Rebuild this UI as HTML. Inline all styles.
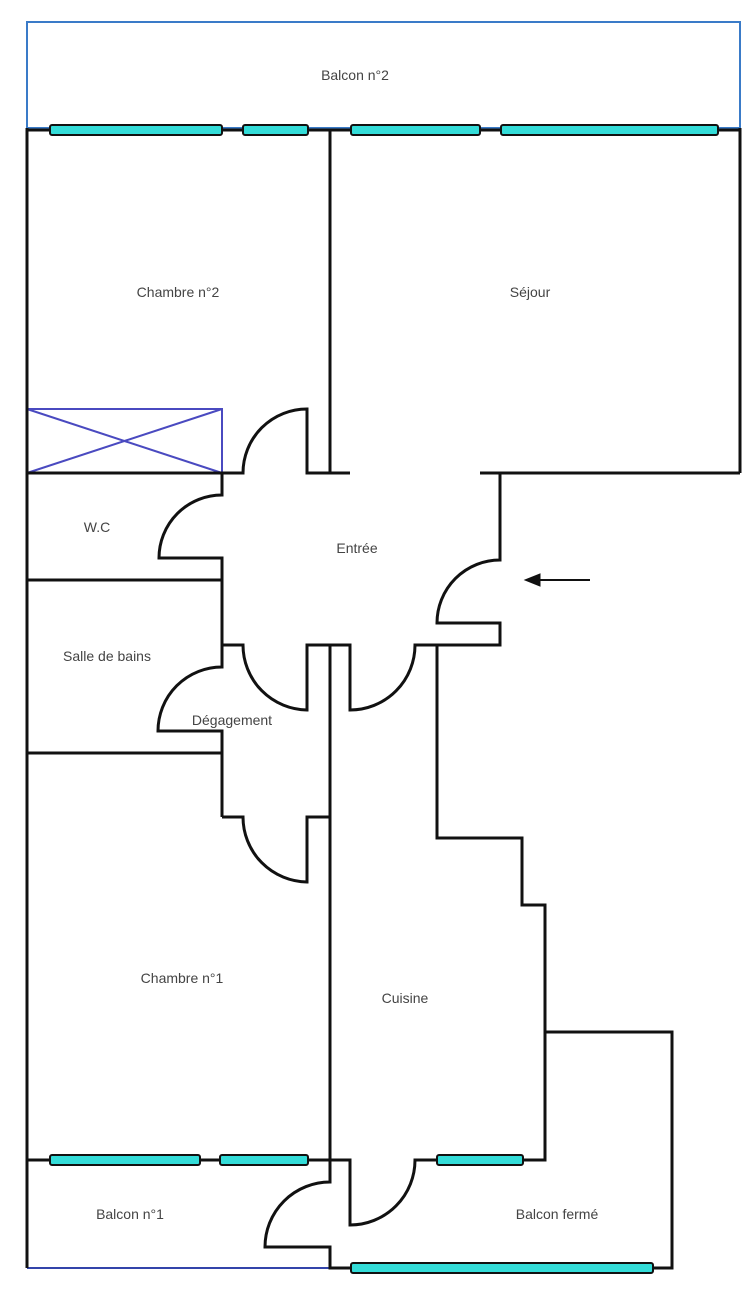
<!DOCTYPE html>
<html><head><meta charset="utf-8"><style>
html,body{margin:0;padding:0;background:#fff;}
svg{display:block;}
text{font-family:"Liberation Sans",sans-serif;font-size:14px;fill:#444;text-anchor:middle;}
</style></head><body>
<svg width="752" height="1294" viewBox="0 0 752 1294" xmlns="http://www.w3.org/2000/svg">
<g fill="none" stroke-width="3">
<rect x="27" y="22" width="713" height="106" stroke="#3a7bc8" stroke-width="2"/>
<rect x="27" y="409" width="195" height="64" stroke="#4a4ac0" stroke-width="2"/>
<line x1="27" y1="409" x2="222" y2="473" stroke="#4a4ac0" stroke-width="2"/>
<line x1="27" y1="473" x2="222" y2="409" stroke="#4a4ac0" stroke-width="2"/>
<line x1="27" y1="1268" x2="330" y2="1268" stroke="#3344aa" stroke-width="2"/>
</g>
<g fill="none" stroke="#111" stroke-width="3" stroke-linejoin="miter">
<line x1="27" y1="130" x2="740" y2="130"/>
<line x1="27" y1="128" x2="27" y2="1268"/>
<line x1="740" y1="128" x2="740" y2="473"/>
<line x1="330" y1="130" x2="330" y2="473"/>
<path d="M480 473 H740"/>
<path d="M27 473 H243 A64 64 0 0 1 307 409 V473 H350"/>
<path d="M480 473 H500 V560 A63 63 0 0 0 437 623 H500 V645 H437"/>
<path d="M222 473 V495 A63 63 0 0 0 159 558 H222 V580"/>
<path d="M27 580 H222 V667 A64 64 0 0 0 158 731 H222 V817"/>
<path d="M27 753 H222"/>
<path d="M222 645 H243 A65 65 0 0 0 307 710 V645 H350 V710 A65 65 0 0 0 415 645 H437 V838 H522 V905 H545 V1032 H672 V1268 H652"/>
<path d="M222 817 H243 A65 65 0 0 0 307 882 V817 H330"/>
<path d="M330 645 V1182 A65 65 0 0 0 265 1247 H330 V1268 H350"/>
<path d="M27 1160 H350 V1225 A65 65 0 0 0 415 1160 H437"/>
<path d="M523 1160 H545 V1032"/>
<line x1="590" y1="580" x2="535" y2="580" stroke-width="2"/>
<path d="M525 580 L540 574 L540 586 Z" fill="#111" stroke-width="1"/>
</g>
<g fill="#33dcd8" stroke="#111" stroke-width="2">
<rect x="50" y="125" width="172" height="10" rx="2"/>
<rect x="243" y="125" width="65" height="10" rx="2"/>
<rect x="351" y="125" width="129" height="10" rx="2"/>
<rect x="501" y="125" width="217" height="10" rx="2"/>
<rect x="50" y="1155" width="150" height="10" rx="2"/>
<rect x="220" y="1155" width="88" height="10" rx="2"/>
<rect x="437" y="1155" width="86" height="10" rx="2"/>
<rect x="351" y="1263" width="302" height="10" rx="2"/>
</g>
<text x="355" y="80">Balcon n°2</text>
<text x="178" y="297">Chambre n°2</text>
<text x="530" y="297">Séjour</text>
<text x="97" y="532">W.C</text>
<text x="357" y="553">Entrée</text>
<text x="107" y="661">Salle de bains</text>
<text x="232" y="725">Dégagement</text>
<text x="182" y="983">Chambre n°1</text>
<text x="405" y="1003">Cuisine</text>
<text x="130" y="1219">Balcon n°1</text>
<text x="557" y="1219">Balcon fermé</text>
</svg>
</body></html>
